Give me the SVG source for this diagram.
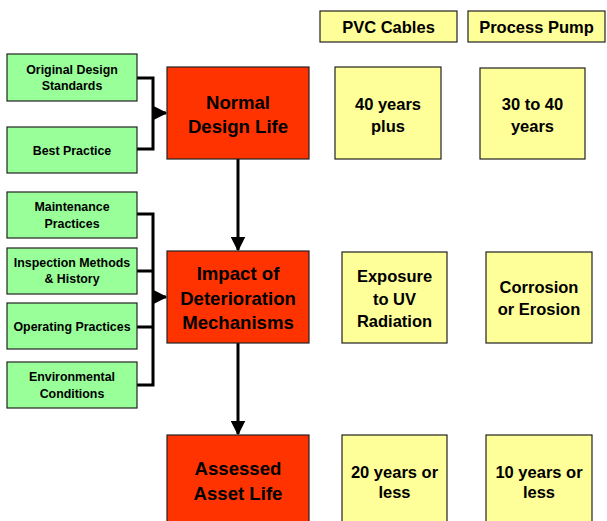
<svg xmlns="http://www.w3.org/2000/svg" width="607" height="521" viewBox="0 0 607 521">
<style>
text{font-family:"Liberation Sans",Arial,sans-serif;font-weight:bold;fill:#000;text-anchor:middle}
.g{fill:#99FF99;stroke:#222;stroke-width:1.2}
.r{fill:#FF3300;stroke:#222;stroke-width:1.2}
.y{fill:#FFFF99;stroke:#222;stroke-width:1.2}
.gt{font-size:12.4px}
.rt{font-size:18.6px}
.yt{font-size:16.5px}
.c{fill:none;stroke:#000;stroke-width:3}
</style>
<defs>
<marker id="ah" markerWidth="5" markerHeight="5" refX="4.5" refY="2.5" orient="auto" markerUnits="strokeWidth"><path d="M0,0 L5,2.5 L0,5 Z" fill="#000"/></marker>
</defs>
<g id="connectors">
<path class="c" d="M137,78 H153 V149 H137"/>
<path class="c" d="M153,113 H166" marker-end="url(#ah)"/>
<path class="c" d="M137,214 H153 V385 H137 M137,271 H153 M137,327 H153"/>
<path class="c" d="M153,297 H166" marker-end="url(#ah)"/>
<path class="c" d="M238,159 V250" marker-end="url(#ah)"/>
<path class="c" d="M238,343 V434" marker-end="url(#ah)"/>
</g>
<g id="n-original"><rect class="g" x="7" y="54" width="130" height="47"/><text class="gt" x="72" y="74">Original Design</text><text class="gt" x="72" y="90">Standards</text></g>
<g id="n-best"><rect class="g" x="7" y="127" width="130" height="46"/><text class="gt" x="72" y="155">Best Practice</text></g>
<g id="n-maint"><rect class="g" x="7" y="192" width="130" height="46"/><text class="gt" x="72" y="211">Maintenance</text><text class="gt" x="72" y="228">Practices</text></g>
<g id="n-insp"><rect class="g" x="7" y="248" width="130" height="46"/><text class="gt" x="72" y="267">Inspection Methods</text><text class="gt" x="72" y="283">&amp; History</text></g>
<g id="n-oper"><rect class="g" x="7" y="303" width="130" height="46"/><text class="gt" x="72" y="331">Operating Practices</text></g>
<g id="n-env"><rect class="g" x="7" y="362" width="130" height="46"/><text class="gt" x="72" y="381">Environmental</text><text class="gt" x="72" y="398">Conditions</text></g>
<g id="n-normal"><rect class="r" x="167" y="67" width="142" height="92"/><text class="rt" x="238" y="109">Normal</text><text class="rt" x="238" y="133">Design Life</text></g>
<g id="n-impact"><rect class="r" x="167" y="251" width="142" height="92"/><text class="rt" x="238" y="280">Impact of</text><text class="rt" x="238" y="305">Deterioration</text><text class="rt" x="238" y="329">Mechanisms</text></g>
<g id="n-assessed"><rect class="r" x="167" y="435" width="142" height="92"/><text class="rt" x="238" y="475">Assessed</text><text class="rt" x="238" y="500">Asset Life</text></g>
<g id="h-pvc"><rect class="y" x="320" y="11" width="137" height="31"/><text class="yt" x="388.5" y="33">PVC Cables</text></g>
<g id="h-pump"><rect class="y" x="468" y="11" width="137" height="31"/><text class="yt" x="536.5" y="33">Process Pump</text></g>
<g id="n-pvc1"><rect class="y" x="335" y="67" width="106" height="92"/><text class="yt" x="388" y="110">40 years</text><text class="yt" x="388" y="132">plus</text></g>
<g id="n-pump1"><rect class="y" x="480" y="68" width="105" height="91"/><text class="yt" x="532.5" y="110">30 to 40</text><text class="yt" x="532.5" y="132">years</text></g>
<g id="n-pvc2"><rect class="y" x="342" y="252" width="105" height="91"/><text class="yt" x="394.5" y="282">Exposure</text><text class="yt" x="394.5" y="305">to UV</text><text class="yt" x="394.5" y="327">Radiation</text></g>
<g id="n-pump2"><rect class="y" x="486" y="252" width="106" height="91"/><text class="yt" x="539" y="293">Corrosion</text><text class="yt" x="539" y="315">or Erosion</text></g>
<g id="n-pvc3"><rect class="y" x="342" y="435" width="105" height="92"/><text class="yt" x="394.5" y="478">20 years or</text><text class="yt" x="394.5" y="498">less</text></g>
<g id="n-pump3"><rect class="y" x="486" y="435" width="106" height="92"/><text class="yt" x="539" y="478">10 years or</text><text class="yt" x="539" y="498">less</text></g>
</svg>
